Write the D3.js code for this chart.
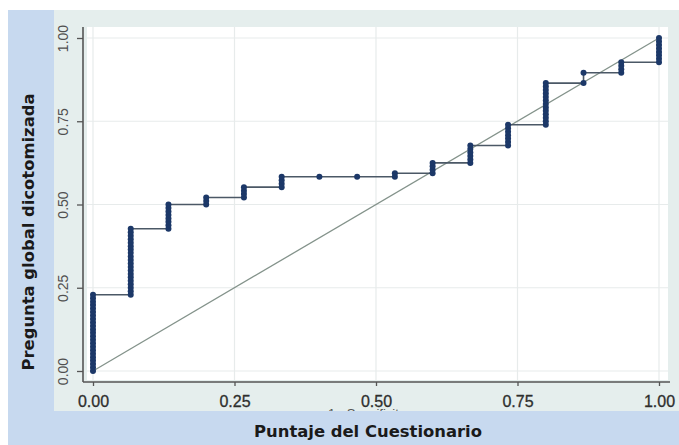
<!DOCTYPE html>
<html>
<head>
<meta charset="utf-8">
<script src="https://cdn.jsdelivr.net/npm/d3@7"></script>
<style>
  html, body { margin: 0; padding: 0; background: #ffffff; }
  svg { display: block; }
</style>
</head>
<body>
<svg id="chart" width="679" height="445"></svg>
<script>
// ROC curve: questionnaire score against the dichotomised global question.
const negatives = 15;   // cases with negative reference (x axis is false-positive count / 15)
const positives = 96;   // cases with positive reference

// False-positive count of each column of cutoffs
const falsePositives = [0, 1, 2, 3, 4, 5, 6, 7, 8, 9, 10, 11, 12, 13, 14, 15];

// True-positive counts of the cutoffs plotted in each column
const truePositives = [
  [0, 1, 2, 3, 4, 5, 6, 7, 8, 9, 10, 11, 12, 13, 14, 15, 16, 17, 18, 19, 20, 21, 22],
  [22, 23, 24, 25, 26, 27, 28, 29, 30, 31, 32, 33, 34, 35, 36, 37, 38, 39, 40, 41],
  [41, 42, 43, 44, 45, 46, 47, 48],
  [48, 49, 50],
  [50, 51, 52, 53],
  [53, 54, 55, 56],
  [56],
  [56],
  [56, 57],
  [57, 58, 59, 60],
  [60, 61, 62, 63, 64, 65],
  [65, 66, 67, 68, 69, 70, 71],
  [71, 72, 73, 74, 75, 76, 77, 78, 79, 80, 81, 82, 83],
  [83, 86],
  [86, 87, 88, 89],
  [89, 90, 91, 92, 93, 94, 95, 96]
];

const xTicks = [0, 0.25, 0.5, 0.75, 1];
const yTicks = [0, 0.25, 0.5, 0.75, 1];
const xTitle = "Puntaje del Cuestionario";
const yTitle = "Pregunta global dicotomizada";
const hiddenTitle = "1 - Specificity";

// Flatten into (1 - specificity, sensitivity) pairs in cutoff order
const rocPoints = [];
falsePositives.forEach((fp, i) => {
  truePositives[i].forEach(tp => {
    rocPoints.push({ fpr: fp / negatives, tpr: tp / positives });
  });
});

const svg = d3.select("#chart");
const W = 679, H = 445;

// Layout
const outer = { x: 8, y: 10 };
const panel = { x: 54, y: 10, bottom: 411 };
const plot = { left: 87, right: 668, top: 27, bottom: 380 };
const axisX = 83, axisY = 382;

const x = d3.scaleLinear().domain([0, 1]).range([93, 659]);
const y = d3.scaleLinear().domain([0, 1]).range([371, 38]);

// Backgrounds
svg.append("rect").attr("x", outer.x).attr("y", outer.y)
  .attr("width", W - outer.x).attr("height", H - outer.y).attr("fill", "#c7d9ef");
svg.append("rect").attr("x", panel.x).attr("y", panel.y)
  .attr("width", W - panel.x).attr("height", panel.bottom - panel.y).attr("fill", "#e5eeed");
svg.append("rect").attr("x", plot.left).attr("y", plot.top)
  .attr("width", plot.right - plot.left).attr("height", plot.bottom - plot.top).attr("fill", "#ffffff");

// Gridlines
const grid = svg.append("g").attr("stroke", "#e7ebeb").attr("stroke-width", 1.2);
grid.selectAll("line.h").data(yTicks).join("line")
  .attr("x1", plot.left).attr("x2", plot.right)
  .attr("y1", d => y(d)).attr("y2", d => y(d));
grid.selectAll("line.v").data(xTicks).join("line")
  .attr("y1", plot.top).attr("y2", plot.bottom)
  .attr("x1", d => x(d)).attr("x2", d => x(d));

// Axis title partly hidden under the outer band
svg.append("text").attr("x", 328).attr("y", 418)
  .attr("font-family", "Liberation Sans, Arial, sans-serif").attr("font-size", 13)
  .attr("fill", "#555").text(hiddenTitle);
svg.append("rect").attr("x", panel.x).attr("y", panel.bottom)
  .attr("width", W - panel.x).attr("height", H - panel.bottom).attr("fill", "#c7d9ef");

// Axes
const yAxis = d3.axisLeft(y).tickValues(yTicks).tickFormat(d3.format(".2f")).tickSize(6).tickPadding(0);
const gy = svg.append("g").attr("transform", `translate(${axisX},0)`).call(yAxis);
gy.select(".domain").remove();
gy.selectAll(".tick line").attr("stroke", "#555").attr("stroke-width", 1.3);
gy.selectAll(".tick text")
  .attr("x", null).attr("dy", null)
  .attr("transform", "translate(-15,0) rotate(-90)")
  .attr("text-anchor", "middle")
  .attr("font-family", "Liberation Sans, Arial, sans-serif")
  .attr("font-size", 14).attr("fill", "#505050");

const xAxis = d3.axisBottom(x).tickValues(xTicks).tickFormat(d3.format(".2f")).tickSize(4).tickPadding(0);
const gx = svg.append("g").attr("transform", `translate(0,${axisY})`).call(xAxis);
gx.select(".domain").remove();
gx.selectAll(".tick line").attr("stroke", "#555").attr("stroke-width", 1.3);
gx.selectAll(".tick text")
  .attr("y", 25).attr("dy", null)
  .attr("font-family", "Liberation Sans, Arial, sans-serif")
  .attr("font-size", 16).attr("fill", "#2e2e2e")
  .attr("stroke", "#2e2e2e").attr("stroke-width", 0.3);

svg.append("line").attr("x1", axisX).attr("x2", axisX).attr("y1", plot.top).attr("y2", axisY)
  .attr("stroke", "#555").attr("stroke-width", 1.6);
svg.append("line").attr("x1", axisX).attr("x2", plot.right + 2).attr("y1", axisY).attr("y2", axisY)
  .attr("stroke", "#555").attr("stroke-width", 1.6);

// Reference diagonal
svg.append("line")
  .attr("x1", x(0)).attr("y1", y(0)).attr("x2", x(1)).attr("y2", y(1))
  .attr("stroke", "#84938b").attr("stroke-width", 1.3);

// ROC step curve
const line = d3.line().x(d => x(d.fpr)).y(d => y(d.tpr));
svg.append("path").datum(rocPoints).attr("d", line)
  .attr("fill", "none").attr("stroke", "#4b5866").attr("stroke-width", 1.6);

svg.append("g").selectAll("circle").data(rocPoints).join("circle")
  .attr("cx", d => x(d.fpr)).attr("cy", d => y(d.tpr)).attr("r", 3)
  .attr("fill", "#1c3868");

// Axis titles
svg.append("text").attr("x", 368).attr("y", 437)
  .attr("text-anchor", "middle")
  .attr("font-family", "DejaVu Sans, sans-serif").attr("font-weight", "bold")
  .attr("font-size", 16).attr("fill", "#1a1a1a")
  .attr("textLength", 228).attr("lengthAdjust", "spacingAndGlyphs")
  .text(xTitle);
svg.append("text").attr("transform", "translate(34,232) rotate(-90)")
  .attr("text-anchor", "middle")
  .attr("font-family", "DejaVu Sans, sans-serif").attr("font-weight", "bold")
  .attr("font-size", 16).attr("fill", "#1a1a1a")
  .attr("textLength", 277).attr("lengthAdjust", "spacingAndGlyphs")
  .text(yTitle);
</script>
</body>
</html>
